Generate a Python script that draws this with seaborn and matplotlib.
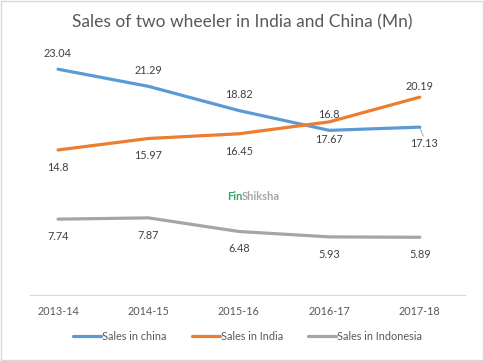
import pandas as pd
import numpy as np
import matplotlib
matplotlib.use("Agg")
import matplotlib.pyplot as plt
import seaborn as sns
from matplotlib.patches import Rectangle

years = ['2013-14', '2014-15', '2015-16', '2016-17', '2017-18']
sales_china = [23.04, 21.29, 18.82, 16.8, 17.13]
sales_india = [14.8, 15.97, 16.45, 17.67, 20.19]
sales_indonesia = [7.74, 7.87, 6.48, 5.93, 5.89]
series_names = ['Sales in china', 'Sales in India', 'Sales in Indonesia']
colors = ['#5B9BD5', '#ED7D31', '#A5A5A5']

# long form for seaborn
df = pd.DataFrame({
    'Year': years * 3,
    'Sales': sales_china + sales_india + sales_indonesia,
    'Series': [s for s in series_names for _ in years],
})

sns.set_style("white")
plt.rcParams['font.family'] = ['Lato', 'DejaVu Sans']

fig = plt.figure(figsize=(4.84, 3.61), dpi=100)
ax = fig.add_axes([30 / 484, 66 / 361, 435 / 484, 245 / 361])

sns.lineplot(data=df, x='Year', y='Sales', hue='Series', palette=colors,
             linewidth=2.3, ax=ax, legend=True, sort=False)

ax.set_ylim(0, 25)
ax.set_xlim(-0.31, 4.5)
ax.set_xlabel('')
ax.set_ylabel('')
ax.set_yticks([])
for side in ['top', 'right', 'left']:
    ax.spines[side].set_visible(False)
ax.spines['bottom'].set_color('#d9d9d9')
ax.spines['bottom'].set_linewidth(0.8)
ax.tick_params(axis='x', length=0, labelsize=7.8, labelcolor='#595959', pad=8)

label_kw = dict(textcoords='offset points', ha='center', va='center',
                fontsize=7.8, color='#404040')

# data labels, offsets in points
for i, v in enumerate(sales_china):
    if i == 4:
        ax.annotate(f'{v:g}', (i, v), xytext=(3, -12), **label_kw)
        ax.annotate('', (i, v), xytext=(2.5, -6.5), textcoords='offset points',
                    arrowprops=dict(arrowstyle='-', color='#a6a6a6', lw=0.7,
                                    shrinkA=0, shrinkB=1))
    else:
        ax.annotate(f'{v:g}', (i, v), xytext=(0, 11.5), **label_kw)

for i, v in enumerate(sales_india):
    if i == 4:
        ax.annotate(f'{v:g}', (i, v), xytext=(0, 8), **label_kw)
    else:
        ax.annotate(f'{v:g}', (i, v), xytext=(0, -12.5), **label_kw)

for i, v in enumerate(sales_indonesia):
    ax.annotate(f'{v:g}', (i, v), xytext=(0, -12.5), **label_kw)

leg = ax.legend(loc='center', bbox_to_anchor=(0.5, -0.17), ncol=3, frameon=False,
                fontsize=7.8, handlelength=2.6, handletextpad=0.1, columnspacing=2.3,
                labelcolor='#595959')
for line in leg.get_lines():
    line.set_linewidth(2.3)

fig.text(0.5, 1 - 22 / 361, 'Sales of two wheeler in India and China (Mn)',
         ha='center', va='center', fontsize=12.5, color='#595959')

# watermark
fig.text(227 / 484, 1 - 197 / 361, 'Fin', ha='left', va='center', fontsize=8,
         fontweight='bold', color='#3aa864')
fig.text(242 / 484, 1 - 197 / 361, 'Shiksha', ha='left', va='center', fontsize=8,
         fontweight='bold', color='#a6a6a6')

fig.patches.append(Rectangle((0.002, 0.003), 0.995, 0.994, transform=fig.transFigure,
                             fill=False, edgecolor='#d9d9d9', linewidth=1))

fig.savefig('out.png', dpi=100)
